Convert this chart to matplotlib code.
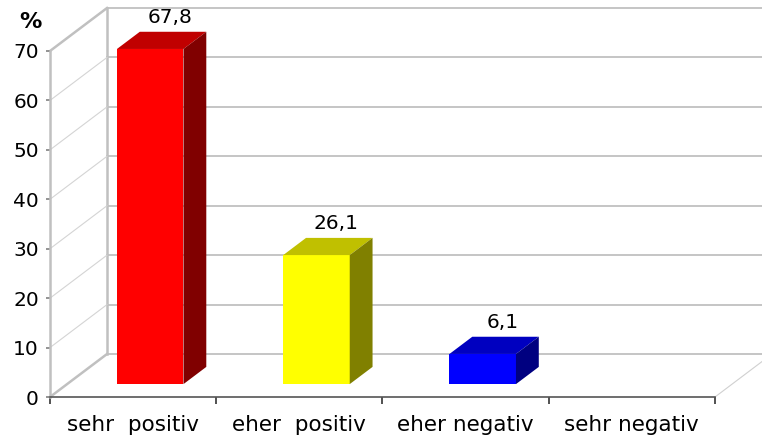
import matplotlib
matplotlib.use('Agg')
import matplotlib.pyplot as plt
from matplotlib.patches import Polygon

# chart data
categories = ['sehr  positiv', 'eher  positiv', 'eher negativ', 'sehr negativ']
values = [67.8, 26.1, 6.1, 0.0]
value_labels = ['67,8', '26,1', '6,1', '']
front_colors = ['#ff0000', '#ffff00', '#0000ff', '#808080']
top_colors = ['#c00000', '#c0c000', '#0000c0', '#606060']
side_colors = ['#800000', '#808000', '#000080', '#404040']
y_ticks = [0, 10, 20, 30, 40, 50, 60, 70]

plt.rcParams['font.family'] = ['DejaVu Sans']

# depth of the pseudo-3d box (in data units)
DX = 0.343
DY = 8.7
BAR_W = 0.4
F0, F1 = 0.3, 0.7  # front/back of bars as fraction of depth

fig = plt.figure(figsize=(7.62, 4.36), dpi=100)
ax = fig.add_axes([50 / 762, 39 / 436, 665 / 762, 346 / 436])
ax.set_xlim(0, 4)
ax.set_ylim(0, 70)

grid_c = '#c0c0c0'
n = len(categories)

# back wall grid lines + wall edge
for v in y_ticks:
    ax.plot([DX, n + DX + 1], [v + DY, v + DY], color=grid_c, lw=1.3,
            clip_on=False, zorder=1)
ax.plot([DX, DX], [DY, 70 + DY], color=grid_c, lw=1.8, clip_on=False, zorder=1)

# left wall diagonals
for v in y_ticks:
    thick = v in (0, 70)
    ax.plot([0, DX], [v, v + DY], color=grid_c if thick else '#d4d4d4',
            lw=1.8 if thick else 0.8, clip_on=False, zorder=1)
# right floor edge
ax.plot([n, n + DX], [0, DY], color='#d0d0d0', lw=0.8, clip_on=False, zorder=1)

# bars as boxes
for i, (val, lab) in enumerate(zip(values, value_labels)):
    if val <= 0:
        continue
    x0 = i + 0.5 - BAR_W / 2 + F0 * DX
    x1 = x0 + BAR_W
    y0 = F0 * DY
    y1 = val + F0 * DY
    ddx = (F1 - F0) * DX
    ddy = (F1 - F0) * DY
    front = Polygon([(x0, y0), (x1, y0), (x1, y1), (x0, y1)],
                    facecolor=front_colors[i], edgecolor='none', zorder=3)
    top = Polygon([(x0, y1), (x1, y1), (x1 + ddx, y1 + ddy), (x0 + ddx, y1 + ddy)],
                  facecolor=top_colors[i], edgecolor='none', zorder=3)
    side = Polygon([(x1, y0), (x1 + ddx, y0 + ddy), (x1 + ddx, y1 + ddy), (x1, y1)],
                   facecolor=side_colors[i], edgecolor='none', zorder=3)
    for p in (front, top, side):
        p.set_clip_on(False)
        ax.add_patch(p)
    ax.text(i + 0.5 + 0.65 * DX, val + F1 * DY + 1.0, lab, ha='center',
            va='bottom', fontsize=14.5, zorder=4)

# axes styling
for s in ('top', 'right'):
    ax.spines[s].set_visible(False)
ax.spines['left'].set_color(grid_c)
ax.spines['left'].set_linewidth(1.8)
ax.spines['bottom'].set_color('#555555')
ax.spines['bottom'].set_linewidth(1.2)
ax.spines['left'].set_zorder(2)
ax.spines['bottom'].set_zorder(5)

ax.set_yticks(y_ticks)
ax.tick_params(axis='y', length=3, width=1.2, color='#808080', pad=5,
               labelsize=14.5)
ax.set_xticks(range(n + 1))
ax.set_xticklabels([''] * (n + 1))
ax.set_xticks([i + 0.5 for i in range(n)], minor=True)
ax.set_xticklabels(categories, minor=True)
ax.tick_params(axis='x', which='major', length=5, width=1.2, color='#333333')
ax.tick_params(axis='x', which='minor', length=0, pad=13, labelsize=15.5)

ax.text(-0.12, 75.8, '%', ha='center', va='center', fontsize=16,
        fontweight='bold')

fig.savefig('out.png', dpi=100)
